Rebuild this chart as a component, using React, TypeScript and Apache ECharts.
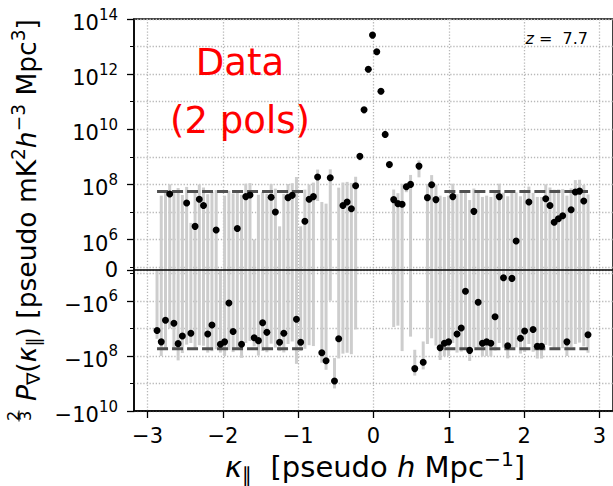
import React, { useEffect, useRef } from "react";
import * as echarts from "echarts";

// kappa_parallel bins [pseudo h Mpc^-1]
const KPAR = [
  -2.874, -2.818, -2.762, -2.706, -2.65, -2.594, -2.538, -2.481, -2.425, -2.369,
  -2.313, -2.257, -2.201, -2.145, -2.089, -2.033, -1.977, -1.92, -1.864, -1.808,
  -1.752, -1.696, -1.64, -1.584, -1.528, -1.472, -1.416, -1.359, -1.303, -1.247,
  -1.191, -1.135, -1.079, -1.023, -0.967, -0.911, -0.855, -0.798, -0.742, -0.686,
  -0.63, -0.574, -0.518, -0.462, -0.406, -0.35, -0.294, -0.237, -0.181, -0.125,
  -0.069, -0.013, 0.043, 0.099, 0.155, 0.211, 0.268, 0.324, 0.38, 0.436,
  0.492, 0.548, 0.604, 0.66, 0.716, 0.772, 0.829, 0.885, 0.941, 0.997,
  1.053, 1.109, 1.165, 1.221, 1.277, 1.333, 1.39, 1.446, 1.502, 1.558,
  1.614, 1.67, 1.726, 1.782, 1.838, 1.894, 1.951, 2.007, 2.063, 2.119,
  2.175, 2.231, 2.287, 2.343, 2.399, 2.455, 2.512, 2.568, 2.624, 2.68,
  2.736, 2.792, 2.848,
];

// delay power spectrum [pseudo mK^2 h^-3 Mpc^3]
const POWER = [
  -1.2e7, -3.1e7, -5.1e6, 4.5e7, -6.6e6, -3.6e7, -1.9e7, 2.1e7, -1.5e7, 3.0e6,
  2.9e7, 1.7e7, -1.6e7, -7.6e6, 2.2e6, -3.8e7, -3.1e7, -1.2e6, -1.3e7, 2.5e6,
  -3.8e7, 3.6e7, 4.1e7, -2.2e7, -2.8e7, -6.3e6, -1.4e7, 3.4e7, 9.9e6, -3.2e7,
  -1.5e7, 3.3e7, 4.0e7, -4.7e6, -3.2e7, 4.6e6, 2.9e7, 3.6e7, 1.85e8, -7.7e7,
  -1.5e8, 1.75e8, -8.2e8, -2.4e7, 1.7e7, 2.3e7, 1.3e7, 8.9e7, 1.04e9, 5.1e10,
  1.5e12, 2.6e13, 6.5e12, 2.4e11, 6.5e9, 5.3e8, 2.8e7, 2.0e7, 1.9e7, 8.2e7,
  1.0e8, -2.9e8, 4.6e8, -1.7e8, 3.3e7, 9.7e7, 2.8e7, -5.1e7, -3.5e7, -3.1e7,
  3.6e7, -1.6e7, -9.8e6, -6.9e5, -6.3e7, 1.05e7, -1.14e6, -3.5e7, -3.1e7, -3.5e7,
  -3.8e6, 3.6e7, -2.5e5, -4.3e7, -2.7e5, 9.5e5, -2.3e7, -1.26e7, 2.3e7, -1.1e7,
  -4.5e7, -4.5e7, 3.0e7, 1.7e7, 4.2e6, 5.7e6, 7.3e6, -3.1e7, 1.2e7, 5.3e7,
  5.7e7, 2.5e7, -1.7e7,
];

// 1-sigma uncertainty on each bin
const SIGMA = [
  1.2e7, 7e7, 5.5e7, 5.5e7, 5.5e7, 1.1e8, 6e7, 6e7, 1.9e7, 5.5e7,
  7e7, 6e7, 6e7, 6e7, 6e7, 3.8e7, 7e7, 6e7, 6e7, 6e7,
  8e7, 7e7, 7e7, 2.3e7, 7e7, 6e7, 6e7, 7e7, 6e7, 3.5e7,
  6e7, 7e7, 7e7, 1.9e8, 3.5e7, 6e7, 7e7, 8e7, 1.6e8, 1.0e8,
  1.7e8, 1.76e8, 7e8, 1.0e8, 1.0e8, 1.0e8, 1.0e8, 1.0e8, 3e8, 1.5e10,
  4e11, 6e12, 1.5e12, 6e10, 1.5e9, 1.5e8, 3.7e7, 2.8e7, 8.6e7, 3e7,
  1.2e8, 2.3e8, 2.8e8, 1.4e8, 7e7, 1.2e8, 7e7, 9e7, 7e7, 7e7,
  7e7, 6e7, 6e7, 5e7, 9e7, 6e7, 5e7, 7e7, 7e7, 7e7,
  6e7, 7e7, 5e7, 8e7, 5e7, 5e7, 6e7, 6e7, 6e7, 6e7,
  8e7, 8e7, 7e7, 6e7, 6e7, 6e7, 6e7, 7e7, 6e7, 9e7,
  9e7, 7e7, 6e7,
];

// expected noise level, shown outside the horizon
const NOISE_LEVEL = 5.5e7;
const HORIZON_K = 0.9;

const Y_MAJOR = [-1e10, -1e8, -1e6, 0, 1e6, 1e8, 1e10, 1e12, 1e14];
const Y_MAJOR_LABELS: [string, string][] = [
  ["\u221210", "10"], ["\u221210", "8"], ["\u221210", "6"], ["0", ""],
  ["10", "6"], ["10", "8"], ["10", "10"], ["10", "12"], ["10", "14"],
];
const Y_MINOR = [-1e9, -1e7, -1e5, 1e5, 1e7, 1e9, 1e11, 1e13];
const X_TICKS = [-3, -2, -1, 0, 1, 2, 3];

const LINTHRESH = 1e6;
const LINSCALE = 1 / (1 - 1 / 10);
const symlog = (v: number) => {
  const a = Math.abs(v);
  if (a <= LINTHRESH) return (v / LINTHRESH) * LINSCALE;
  return Math.sign(v) * (LINSCALE + Math.log10(a / LINTHRESH));
};

const FONT = '"DejaVu Sans", sans-serif';
const GRID_LINE = { color: "#b8b8b8", width: 1.3, type: [1.3, 1.8] as number[] };

export default function App() {
  const ref = useRef<HTMLDivElement>(null);

  useEffect(() => {
    if (!ref.current) return;
    const chart = echarts.init(ref.current, null, { renderer: "svg" });

    const errData = KPAR.map((k, i) => [k, symlog(POWER[i] - SIGMA[i]), symlog(POWER[i] + SIGMA[i])]);
    const dotData = KPAR.map((k, i) => [k, symlog(POWER[i])]);
    const leftK = KPAR.filter((k) => k < -HORIZON_K);
    const rightK = KPAR.filter((k) => k > HORIZON_K);
    const dashStyle = { color: "#505050", width: 3, type: [11, 4] as number[] };
    const noiseSeries = (ks: number[], sign: number) => ({
      type: "line",
      data: ks.map((k) => [k, symlog(sign * NOISE_LEVEL)]),
      showSymbol: false,
      lineStyle: dashStyle,
      z: 3,
      silent: true,
    });

    const yMin = symlog(-1e10);
    const yMax = symlog(1e14);

    chart.setOption({
      animation: false,
      grid: {
        left: 134,
        top: 19,
        bottom: 75,
        right: -5,
        show: true,
        borderColor: "#000",
        borderWidth: 1.5,
        backgroundColor: "transparent",
      },
      xAxis: {
        type: "value",
        min: -3.18,
        max: 3.18,
        axisLine: { show: true, onZero: false, lineStyle: { color: "#000", width: 1.5 } },
        axisTick: { show: true, customValues: X_TICKS, length: 7, lineStyle: { color: "#000", width: 1.3 } },
        axisLabel: {
          customValues: X_TICKS,
          formatter: (v: number) => (v < 0 ? "\u2212" + Math.abs(v) : String(v)),
          color: "#000",
          fontSize: 21,
          fontFamily: FONT,
          margin: 14,
        },
        splitLine: { show: true, lineStyle: GRID_LINE },
      },
      yAxis: [
        {
          type: "value",
          min: yMin,
          max: yMax,
          axisLine: { show: true, onZero: false, lineStyle: { color: "#000", width: 1.5 } },
          axisTick: { show: true, customValues: Y_MAJOR.map(symlog), length: 7, lineStyle: { color: "#000", width: 1.3 } },
          axisLabel: { show: false, customValues: Y_MAJOR.map(symlog) },
          splitLine: { show: true, lineStyle: GRID_LINE },
        },
        {
          type: "value",
          min: yMin,
          max: yMax,
          position: "left",
          axisLine: { show: false, onZero: false },
          axisTick: { show: true, customValues: Y_MINOR.map(symlog), length: 4, lineStyle: { color: "#000", width: 1 } },
          axisLabel: { show: false, customValues: Y_MINOR.map(symlog) },
          splitLine: { show: true, lineStyle: GRID_LINE },
        },
      ],
      series: [
        {
          type: "custom",
          data: errData,
          encode: { x: 0, y: [1, 2] },
          clip: true,
          z: 2,
          silent: true,
          renderItem: (_params: any, api: any) => {
            const k = api.value(0);
            const lo = api.coord([k, api.value(1)]);
            const hi = api.coord([k, api.value(2)]);
            return {
              type: "rect",
              shape: { x: lo[0] - 1.5, y: hi[1], width: 3, height: lo[1] - hi[1] },
              style: { fill: "#cdcdcd" },
            };
          },
        },
        noiseSeries(leftK, 1),
        noiseSeries(leftK, -1),
        noiseSeries(rightK, 1),
        noiseSeries(rightK, -1),
        {
          type: "scatter",
          data: dotData,
          symbol: "circle",
          symbolSize: 7,
          itemStyle: { color: "#000", opacity: 1 },
          z: 5,
          silent: true,
          markLine: {
            silent: true,
            symbol: ["none", "none"],
            label: { show: false },
            lineStyle: { color: "#000", width: 1.6, type: "solid" },
            data: [{ yAxis: 0 }],
          },
        },
      ],
    });

    const tickRich = {
      b: { fontSize: 21, fontFamily: FONT, lineHeight: 32, fill: "#000" },
      s: { fontSize: 15, fontFamily: FONT, lineHeight: 6, verticalAlign: "top", fill: "#000" },
    };
    const yLabels = Y_MAJOR.map((v, i) => {
      const py = chart.convertToPixel({ yAxisIndex: 0 }, symlog(v)) as number;
      const [base, sup] = Y_MAJOR_LABELS[i];
      return {
        type: "text",
        x: 118,
        y: sup ? py + 4 : py,
        silent: true,
        style: {
          text: sup ? `{b|${base}}{s|${sup}}` : `{b|${base}}`,
          rich: tickRich,
          align: "right",
          verticalAlign: "middle",
        },
      };
    });

    const titleRich = (size: number) => ({
      n: { fontSize: size, fontFamily: FONT, lineHeight: size * 1.25, fill: "#000" },
      i: { fontSize: size, fontFamily: FONT, fontStyle: "italic", lineHeight: size * 1.25, fill: "#000" },
      sub: { fontSize: size * 0.7, fontFamily: FONT, lineHeight: size * 0.75, verticalAlign: "bottom", fill: "#000" },
      sup: { fontSize: size * 0.7, fontFamily: FONT, lineHeight: size * 0.35, verticalAlign: "top", fill: "#000" },
    });

    chart.setOption({
      graphic: [
        ...yLabels,
        {
          type: "text",
          x: 375,
          y: 467,
          silent: true,
          style: {
            text: "{i|\u03ba}{sub|\u2225}{n|  [pseudo }{i|h}{n| Mpc}{sup|\u22121}{n|]}",
            rich: titleRich(29),
            align: "center",
            verticalAlign: "middle",
          },
        },
        {
          type: "text",
          x: 26,
          y: 401,
          rotation: Math.PI / 2,
          silent: true,
          style: {
            text: "{i|P}{sub|\u2207}{n|(}{i|\u03ba}{sub|\u2225}{n|) [pseudo mK}{sup|2}{i|h}{sup|\u22123}{n| Mpc}{sup|3}{n|]}",
            rich: titleRich(26.5),
            align: "left",
            verticalAlign: "middle",
          },
        },
        {
          type: "text",
          x: 13,
          y: 416,
          rotation: Math.PI / 2,
          silent: true,
          style: { text: "2", font: `16px ${FONT}`, fill: "#000", align: "center", verticalAlign: "middle" },
        },
        {
          type: "text",
          x: 25,
          y: 416,
          rotation: Math.PI / 2,
          silent: true,
          style: { text: "3", font: `16px ${FONT}`, fill: "#000", align: "center", verticalAlign: "middle" },
        },
        {
          type: "line",
          silent: true,
          shape: { x1: 19, y1: 410.5, x2: 19, y2: 421.5 },
          style: { stroke: "#000", lineWidth: 1 },
        },
        {
          type: "text",
          x: 240,
          y: 62,
          silent: true,
          style: { text: "Data", font: `37px ${FONT}`, fill: "#ff0000", align: "center", verticalAlign: "middle" },
        },
        {
          type: "text",
          x: 240,
          y: 120,
          silent: true,
          style: { text: "(2 pols)", font: `37px ${FONT}`, fill: "#ff0000", align: "center", verticalAlign: "middle" },
        },
        {
          type: "text",
          x: 588,
          y: 38,
          silent: true,
          style: {
            text: "{i|z}{n| =  7.7}",
            rich: {
              i: { fontSize: 16, fontFamily: FONT, fontStyle: "italic", fill: "#000" },
              n: { fontSize: 16, fontFamily: FONT, fill: "#000" },
            },
            align: "right",
            verticalAlign: "middle",
          },
        },
      ],
    });

    return () => chart.dispose();
  }, []);

  return (
    <div
      ref={ref}
      style={{ position: "fixed", left: 0, top: 0, width: 613, height: 486, background: "#fff" }}
    />
  );
}
